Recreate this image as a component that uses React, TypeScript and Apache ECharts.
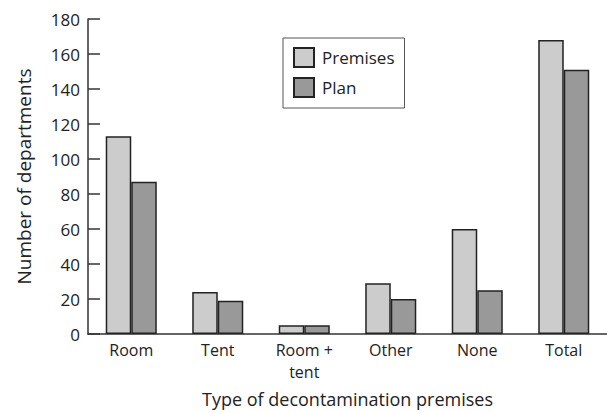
import React, { useEffect, useRef } from "react";
import * as echarts from "echarts";

const categories = ["Room", "Tent", "Room +\ntent", "Other", "None", "Total"];
const premises = [113, 24, 5, 29, 60, 168];
const plan = [87, 19, 5, 20, 25, 151];
const yTicks = { min: 0, max: 180, interval: 20 };

const FONT = "'Open Sans', Lato, sans-serif";

export default function App() {
  const ref = useRef<HTMLDivElement>(null);
  useEffect(() => {
    if (!ref.current) return;
    const chart = echarts.init(ref.current, null, { renderer: "svg" });
    chart.setOption({
      animation: false,
      backgroundColor: "#ffffff",
      textStyle: { fontFamily: FONT, color: "#222" },
      grid: { left: 88, top: 19, right: 0, bottom: 79, containLabel: false, outerBoundsMode: "none" },
      legend: {
        orient: "vertical",
        left: 283,
        top: 38,
        padding: [9, 10, 10, 10],
        itemGap: 9,
        itemWidth: 20,
        itemHeight: 19,
        borderColor: "#555",
        borderWidth: 1,
        icon: "rect",
        textStyle: { fontSize: 17, fontFamily: FONT, color: "#222", padding: [0, 0, 0, 3] },
        data: ["Premises", "Plan"],
      },
      xAxis: {
        type: "category",
        data: categories,
        name: "Type of decontamination premises",
        nameLocation: "middle",
        nameGap: 56,
        nameTextStyle: { fontSize: 18, fontFamily: FONT, color: "#222" },
        axisLine: { lineStyle: { color: "#333", width: 1.5 } },
        axisTick: { inside: true, length: 14, alignWithLabel: false, lineStyle: { color: "#333", width: 1.5 } },
        axisLabel: { fontSize: 16, color: "#222", margin: 5, lineHeight: 22, fontFamily: FONT },
      },
      yAxis: {
        type: "value",
        min: yTicks.min,
        max: yTicks.max,
        interval: yTicks.interval,
        name: "Number of departments",
        nameLocation: "middle",
        nameGap: 55,
        nameTextStyle: { fontSize: 19, fontFamily: FONT, color: "#222" },
        axisLine: { show: true, lineStyle: { color: "#333", width: 1.5 } },
        axisTick: { show: true, inside: true, length: 12, lineStyle: { color: "#333", width: 1.5 } },
        axisLabel: { fontSize: 17, color: "#222", margin: 8, fontFamily: FONT },
        splitLine: { show: false },
      },
      series: [
        {
          name: "Premises",
          type: "bar",
          data: premises,
          barGap: "0%",
          barCategoryGap: "41%",
          itemStyle: { color: "#cccccc", borderColor: "#222", borderWidth: 1.5 },
        },
        {
          name: "Plan",
          type: "bar",
          data: plan,
          itemStyle: { color: "#999999", borderColor: "#222", borderWidth: 1.5 },
        },
      ],
    });
    return () => chart.dispose();
  }, []);
  return (
    <div
      ref={ref}
      style={{ position: "absolute", left: 0, top: 0, width: 607, height: 413 }}
    />
  );
}
